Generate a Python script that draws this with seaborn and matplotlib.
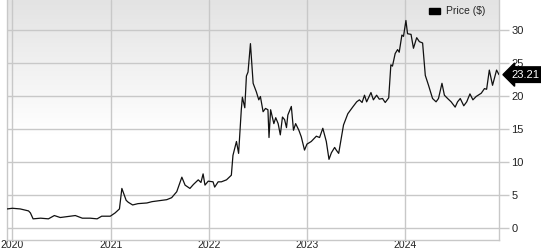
import numpy as np
import pandas as pd
import matplotlib
matplotlib.use("Agg")
import matplotlib.pyplot as plt
from matplotlib.patches import Patch
from matplotlib.colors import LinearSegmentedColormap
import seaborn as sns

dates = [
    "2019-12-13", "2020-01-01", "2020-01-30", "2020-03-01", "2020-03-08", "2020-03-18",
    "2020-04-15", "2020-05-14", "2020-06-05", "2020-06-27", "2020-08-22", "2020-09-17",
    "2020-10-16", "2020-11-11", "2020-11-28", "2020-12-30", "2021-01-17", "2021-02-02",
    "2021-02-11", "2021-02-27", "2021-03-07", "2021-03-23", "2021-04-12", "2021-05-15",
    "2021-06-03", "2021-06-21", "2021-07-28", "2021-08-15", "2021-09-03", "2021-09-22",
    "2021-10-04", "2021-10-22", "2021-11-04", "2021-11-22", "2021-12-02", "2021-12-10",
    "2021-12-17", "2021-12-29", "2022-01-16", "2022-01-22", "2022-02-04", "2022-02-16",
    "2022-03-07", "2022-03-25", "2022-03-31", "2022-04-13", "2022-04-21", "2022-05-01",
    "2022-05-05", "2022-05-14", "2022-05-20", "2022-05-26", "2022-06-04", "2022-06-14",
    "2022-06-26", "2022-07-05", "2022-07-11", "2022-07-21", "2022-07-30", "2022-08-08",
    "2022-08-12", "2022-08-18", "2022-08-30", "2022-09-06", "2022-09-15", "2022-09-23",
    "2022-10-01", "2022-10-09", "2022-10-16", "2022-10-21", "2022-11-03", "2022-11-11",
    "2022-11-19", "2022-12-01", "2022-12-10", "2022-12-22", "2022-12-31", "2023-01-04",
    "2023-01-16", "2023-02-04", "2023-02-16", "2023-02-28", "2023-03-13", "2023-03-23",
    "2023-04-01", "2023-04-13", "2023-04-19", "2023-04-28", "2023-05-16", "2023-06-01",
    "2023-06-19", "2023-07-04", "2023-07-14", "2023-07-24", "2023-08-02", "2023-08-10",
    "2023-08-26", "2023-09-04", "2023-09-16", "2023-09-26", "2023-10-08", "2023-10-18",
    "2023-10-31", "2023-11-08", "2023-11-14", "2023-11-24", "2023-12-03", "2023-12-09",
    "2023-12-19", "2023-12-25", "2024-01-03", "2024-01-09", "2024-01-22", "2024-01-31",
    "2024-02-12", "2024-02-22", "2024-03-05", "2024-03-15", "2024-03-27", "2024-04-11",
    "2024-04-24", "2024-05-03", "2024-05-16", "2024-05-25", "2024-06-06", "2024-06-19",
    "2024-07-04", "2024-07-13", "2024-07-23", "2024-08-05", "2024-08-16", "2024-08-28",
    "2024-09-08", "2024-09-20", "2024-10-09", "2024-10-21", "2024-10-29", "2024-11-08",
    "2024-11-20", "2024-12-05", "2024-12-14",
]
prices = [
    2.9, 3.0, 2.9, 2.6, 2.3, 1.4,
    1.5, 1.4, 1.9, 1.6, 1.9, 1.5,
    1.5, 1.4, 1.8, 1.8, 2.3, 2.9,
    6.0, 4.2, 3.9, 3.5, 3.7, 3.8,
    4.0, 4.1, 4.3, 4.6, 5.5, 7.7,
    6.5, 6.0, 6.6, 7.3, 6.9, 8.2,
    6.5, 7.1, 7.0, 6.2, 7.0, 7.0,
    7.3, 8.0, 11.0, 13.1, 11.3, 17.9,
    19.8, 18.2, 23.0, 23.6, 27.9, 21.9,
    20.6, 19.4, 19.9, 17.6, 18.1, 17.9,
    13.7, 17.9, 15.8, 16.7, 15.8, 14.1,
    16.8, 16.4, 15.2, 17.1, 18.4, 14.8,
    15.8, 14.8, 13.8, 11.8, 12.7, 12.8,
    13.1, 13.9, 13.7, 15.1, 13.1, 10.4,
    11.4, 12.2, 11.8, 11.3, 15.6, 17.3,
    18.3, 19.1, 19.4, 19.0, 20.1, 19.1,
    20.5, 19.4, 20.1, 19.5, 19.6, 19.0,
    19.7, 24.7, 24.5, 26.4, 27.0, 26.6,
    29.2, 29.0, 31.4, 29.4, 29.3, 27.2,
    28.8, 28.2, 28.0, 23.1, 21.6, 19.6,
    19.1, 19.6, 21.9, 20.1, 19.6, 19.1,
    18.3, 19.1, 19.6, 18.5, 19.1, 20.3,
    19.4, 19.9, 20.4, 21.1, 21.0, 23.9,
    21.6, 23.9, 23.21,
]
y_ticks = [0, 5, 10, 15, 20, 25, 30]
x_tick_labels = ["2020", "2021", "2022", "2023", "2024"]
series_label = "Price ($)"

df = pd.DataFrame({"date": pd.to_datetime(dates), "price": prices})

sns.set_theme(style="white")
plt.rcParams["font.family"] = ["Liberation Sans", "DejaVu Sans"]

fig = plt.figure(figsize=(5.41, 2.50), dpi=100)
ax = fig.add_axes([7 / 541, 10 / 250, 492 / 541, 240 / 250])

# gradient background
grad = np.linspace(0.0, 1.0, 256).reshape(-1, 1)
cmap = LinearSegmentedColormap.from_list(
    "bg", [(0.0, "#e3e3e3"), (0.55, "#ffffff"), (1.0, "#ffffff")]
)
ax.imshow(grad, extent=[0, 1, 0, 1], transform=ax.transAxes, aspect="auto",
          cmap=cmap, zorder=0, interpolation="bicubic")

sns.lineplot(data=df, x="date", y="price", ax=ax, color="#111111",
             linewidth=0.9, zorder=3, legend=False)

ax.set_xlim(pd.Timestamp("2019-12-12"), pd.Timestamp("2024-12-14"))
ax.set_ylim(-1.8, 34.5)

# grid
grid_c = "#c8c8c8"
ax.set_yticks(y_ticks)
ax.set_xticks(pd.to_datetime([f"{y}-01-01" for y in x_tick_labels]))
ax.set_xticklabels(x_tick_labels)
ax.grid(True, color=grid_c, linewidth=1.0, zorder=1)
ax.set_axisbelow(True)

for s in ax.spines.values():
    s.set_color(grid_c)
    s.set_linewidth(1.0)
ax.spines["top"].set_visible(False)

ax.yaxis.tick_right()
ax.tick_params(axis="y", which="both", right=True, length=7, width=1.0,
               color=grid_c, pad=2, labelsize=8, labelcolor="#222222")
ax.tick_params(axis="x", bottom=False, length=0, pad=0, labelsize=7.5,
               labelcolor="#222222")
ax.set_xlabel("")
ax.set_ylabel("")

# legend
handle = Patch(facecolor="black", edgecolor="black", label=series_label)
leg = ax.legend(handles=[handle], loc="upper right", frameon=False,
                fontsize=7.5, handlelength=1.0, handleheight=0.5,
                handletextpad=0.6, borderaxespad=0.2,
                bbox_to_anchor=(0.985, 1.0))

# last-price tag
last = prices[-1]
ax.annotate(f"{last:.2f}", xy=(1.0, last), xycoords=ax.get_yaxis_transform(),
            xytext=(9, 0), textcoords="offset points", ha="left", va="center",
            color="white", fontsize=8,
            bbox=dict(boxstyle="larrow,pad=0.25", fc="black", ec="black"),
            zorder=10, annotation_clip=False)

fig.savefig("out.png", dpi=100)
